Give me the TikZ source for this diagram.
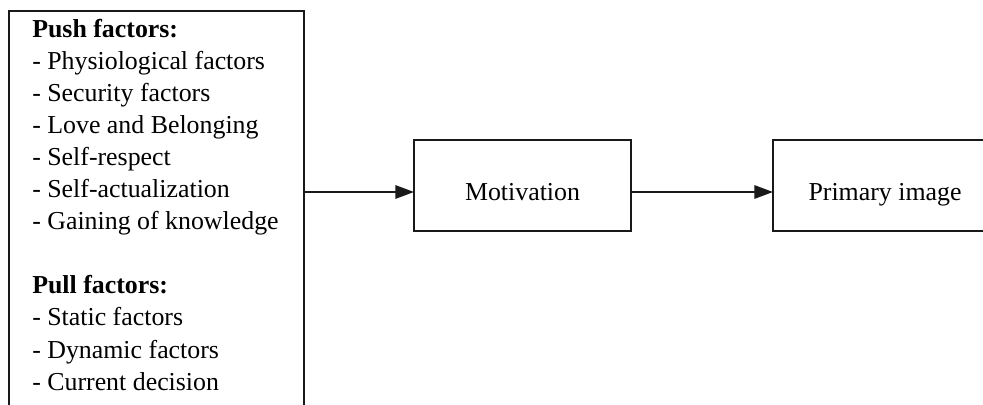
\documentclass[tikz,border=0pt]{standalone}
\usepackage{fontspec}
\setmainfont{Liberation Serif}
\usetikzlibrary{arrows.meta}
\begin{document}
\begin{tikzpicture}[x=0.75pt,y=-0.75pt,
  boxstyle/.style={draw=black!90, line width=2pt, inner sep=0pt, outer sep=0pt},
  linetext/.style={anchor=base west, inner sep=0pt, font=\fontsize{19.4pt}{23.8pt}\selectfont},
  arrowline/.style={draw=black!90, line width=1.5pt, -{Triangle[length=14pt,width=10pt]}},
  boxtext/.style={font=\fontsize{19.4pt}{23.8pt}\selectfont, text height=21.8pt, text depth=0pt}
]
\useasboundingbox (0,0) rectangle (983,404);
\clip (0,0) rectangle (983,404);
% left box
\node[boxstyle, anchor=north west, minimum width=221.25pt, minimum height=315pt] (factors) at (9,11) {};
\node[linetext, font=\bfseries\fontsize{19.4pt}{23.8pt}\selectfont] (push) at (32,37) {Push factors:};
\node[linetext] (p1) at (32,69.1) {- Physiological factors};
\node[linetext] (p2) at (32,101.2) {- Security factors};
\node[linetext] (p3) at (32,133.3) {- Love and Belonging};
\node[linetext] (p4) at (32,165.4) {- Self-respect};
\node[linetext] (p5) at (32,197.5) {- Self-actualization};
\node[linetext] (p6) at (32,229.6) {- Gaining of knowledge};
\node[linetext, font=\bfseries\fontsize{19.4pt}{23.8pt}\selectfont] (pull) at (32,293.8) {Pull factors:};
\node[linetext] (q1) at (32,325.9) {- Static factors};
\node[linetext] (q2) at (32,358) {- Dynamic factors};
\node[linetext] (q3) at (32,390.1) {- Current decision};
% right boxes
\node[boxstyle, boxtext, minimum width=162.75pt, minimum height=68.25pt] (mot) at (522.5,185.5) {Motivation};
\node[boxstyle, boxtext, minimum width=168pt, minimum height=68.25pt, anchor=west] (prim) at (773,185.5) {Primary image};
% arrows
\draw[arrowline] (factors.east |- 0,192) -- (mot.west |- 0,192);
\draw[arrowline] (mot.east |- 0,192) -- (prim.west |- 0,192);
\end{tikzpicture}
\end{document}
